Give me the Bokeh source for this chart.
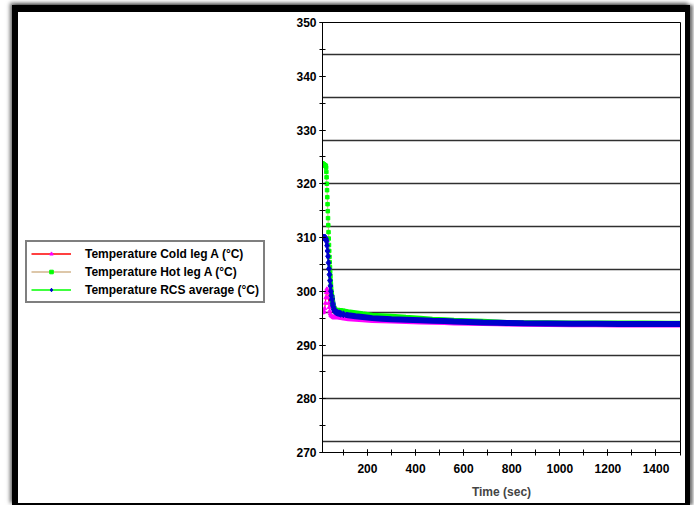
from bokeh.plotting import figure
from bokeh.layouts import row
from bokeh.models import (Range1d, SingleIntervalTicker, FixedTicker, Legend, LegendItem)
from bokeh.embed import file_html
from bokeh.resources import INLINE

# ---------------- data ----------------
tail_t = [100, 120, 150, 180, 220, 260, 300, 360, 420, 470, 520, 560, 620, 680, 740,
          780, 850, 950, 1050, 1150, 1250, 1350, 1450, 1500]

cold_t = [13, 16, 19, 22, 25, 27, 29, 31, 33, 35, 37, 39, 41, 43, 45, 48, 52, 58, 65, 75, 89] + tail_t
cold_v = [296.0, 296.1, 296.3, 296.8, 297.8, 298.8, 299.8, 300.4, 300.3, 299.7, 298.8, 297.8,
          297.0, 296.3, 295.8, 295.5, 295.3, 295.2, 295.2, 295.2, 295.1,
          295.0, 294.9, 294.8, 294.7, 294.55, 294.5, 294.45, 294.35, 294.3, 294.25, 294.2,
          294.1, 294.05, 294.0, 293.95, 293.9, 293.85, 293.8, 293.75, 293.75, 293.7, 293.7,
          293.7, 293.7]

hot_t = [13, 15, 17, 19, 21, 23, 25, 27, 28, 29, 30, 31, 32, 33, 34, 35, 36, 37, 38, 39, 40,
         41, 42, 43, 44, 45, 46, 47, 48, 49, 50, 52, 54, 56, 59, 62, 66, 70, 75, 82, 89] + tail_t
hot_v = [323.8, 323.7, 323.6, 323.6, 323.5, 323.4, 323.4, 323.3,
         323.0, 322.2, 321.2, 320.0, 318.8, 317.5, 316.2, 314.9, 313.6, 312.3, 311.0, 309.8,
         308.6, 307.5, 306.4, 305.4, 304.5, 303.6, 302.8, 302.0, 301.3, 300.6, 300.0,
         299.0, 298.2, 297.6, 297.1, 296.8, 296.6, 296.5, 296.45, 296.45, 296.4,
         296.35, 296.2, 296.0, 295.8, 295.55, 295.45, 295.35, 295.15, 295.0, 294.8, 294.7,
         294.6, 294.5, 294.4, 294.3, 294.2, 294.15, 294.15, 294.1, 294.1, 294.1, 294.1,
         294.05, 294.05]

rcs_t = [13, 16, 19, 22, 25, 28, 30, 32, 34, 36, 38, 40, 42, 44, 46, 48, 50, 52, 55, 58, 62,
         66, 70, 75, 82, 89] + tail_t
rcs_v = [310.0, 310.0, 310.0, 310.0, 309.9, 309.7, 309.3, 308.5, 307.5, 306.5, 305.3, 304.2,
         303.1, 302.0, 301.0, 300.0, 299.2, 298.5, 297.7, 297.1, 296.6, 296.3, 296.1, 296.0,
         295.9, 295.8,
         295.7, 295.55, 295.35, 295.2, 295.0, 294.9, 294.8, 294.7, 294.6, 294.5, 294.45,
         294.35, 294.3, 294.2, 294.15, 294.1, 294.05, 294.0, 293.95, 293.95, 293.9, 293.9,
         293.9, 293.9]

series_labels = ["Temperature Cold leg A (°C)", "Temperature Hot leg A (°C)",
                 "Temperature RCS average (°C)"]
grid_values = [272, 280, 288, 296, 304, 312, 320, 328, 336, 344]

FONT = "Liberation Sans"
H = 491

# ---------------- main chart ----------------
p = figure(width=397, height=H, output_backend="svg", toolbar_location=None,
           x_range=Range1d(13, 1502), y_range=Range1d(270, 350),
           min_border_left=34, min_border_right=5, min_border_top=10,
           min_border_bottom=51)
p.background_fill_color = "white"
p.border_fill_color = "white"
p.outline_line_color = "black"
p.outline_line_width = 1

p.xaxis.ticker = SingleIntervalTicker(interval=200, num_minor_ticks=2)
p.yaxis.ticker = SingleIntervalTicker(interval=10, num_minor_ticks=2)
for ax in (p.xaxis, p.yaxis):
    ax.axis_line_color = "black"
    ax.major_tick_line_color = "black"
    ax.minor_tick_line_color = "black"
    ax.major_tick_in = 3
    ax.major_tick_out = 3
    ax.minor_tick_in = 3
    ax.minor_tick_out = 3
    ax.major_label_text_font = FONT
    ax.major_label_text_font_style = "bold"
    ax.major_label_text_font_size = "12px"
    ax.major_label_text_color = "black"
p.yaxis.major_label_standoff = 3
p.xaxis.major_label_standoff = 8
p.xaxis.axis_label = "Time (sec)"
p.xaxis.axis_label_text_font = FONT
p.xaxis.axis_label_text_font_style = "bold"
p.xaxis.axis_label_text_font_size = "12px"
p.xaxis.axis_label_standoff = 9

p.xgrid.grid_line_color = None
p.ygrid.ticker = FixedTicker(ticks=grid_values)
p.ygrid.grid_line_color = "#303030"
p.ygrid.grid_line_width = 1.5

def part(ts, vs, lo, hi):
    idx = [i for i, t in enumerate(ts) if lo <= t <= hi]
    return [ts[i] for i in idx], [vs[i] for i in idx]

# thin connecting lines
p.line(cold_t, cold_v, color="red", line_width=1)
p.line(hot_t, hot_v, color="#D2B48C", line_width=1)
p.line(rcs_t, rcs_v, color="lime", line_width=1)

# dense tail bands (markers packed so tightly they form a band)
ct, cv = part(cold_t, cold_v, 50, 2000)
p.line(ct, cv, color="magenta", line_width=5)
ht, hv = part(hot_t, hot_v, 50, 2000)
p.line(ht, hv, color="lime", line_width=5)
rt, rv = part(rcs_t, rcs_v, 50, 2000)
p.line(rt, rv, color="#0000CC", line_width=6)

# markers in the transient
ct, cv = part(cold_t, cold_v, 0, 100)
p.scatter(ct, cv, marker="triangle", size=4, color="magenta")
ht, hv = part(hot_t, hot_v, 0, 100)
p.scatter(ht, hv, marker="square", size=3.5, color="lime")
rt, rv = part(rcs_t, rcs_v, 0, 100)
p.scatter(rt, rv, marker="diamond", size=7, color="#0000CC")

# ---------------- legend panel ----------------
lp = figure(width=270, height=H, output_backend="svg", toolbar_location=None,
            x_range=Range1d(0, 1), y_range=Range1d(0, 1),
            min_border=0, min_border_left=0, min_border_right=0,
            min_border_top=0, min_border_bottom=0)
lp.axis.visible = False
lp.grid.visible = False
lp.outline_line_color = None
lp.background_fill_color = "white"
lp.border_fill_color = "white"

# legend-only renderers, with data placed outside the visible range
off_x = [5, 6]
off_y = [5, 6]
lc = lp.line(off_x, off_y, color="red", line_width=1.5)
mc = lp.scatter(off_x, off_y, marker="triangle", size=4, color="magenta")
lh = lp.line(off_x, off_y, color="#D2B48C", line_width=1.5)
mh = lp.scatter(off_x, off_y, marker="square", size=3, color="lime")
lr = lp.line(off_x, off_y, color="lime", line_width=1.5)
mr = lp.scatter(off_x, off_y, marker="diamond", size=5, color="#0000CC")

legend = Legend(items=[LegendItem(label=series_labels[0], renderers=[lc, mc]),
                       LegendItem(label=series_labels[1], renderers=[lh, mh]),
                       LegendItem(label=series_labels[2], renderers=[lr, mr])],
                location=(7, 149))
legend.border_line_color = "black"
legend.border_line_width = 2
legend.background_fill_color = "white"
legend.background_fill_alpha = 1
legend.label_text_font = FONT
legend.label_text_font_style = "bold"
legend.label_text_font_size = "12px"
legend.label_text_color = "black"
legend.glyph_width = 40
legend.glyph_height = 9
legend.label_height = 15
legend.label_standoff = 14
legend.spacing = 3
legend.padding = 4
legend.margin = 0
lp.add_layout(legend, "center")

layout = row(lp, p, spacing=0)
layout.styles = {"margin-left": "12px", "margin-top": "5px",
                 "border-left": "6px solid black", "border-top": "7px solid black",
                 "border-right": "5px solid black", "border-bottom": "2px solid black",
                 "box-shadow": "-2px -2px 4px rgba(0,0,0,0.6), 3px 0px 3px rgba(0,0,0,0.5)",
                 "background-color": "white"}

open("out.html", "w").write(file_html(layout, INLINE))
